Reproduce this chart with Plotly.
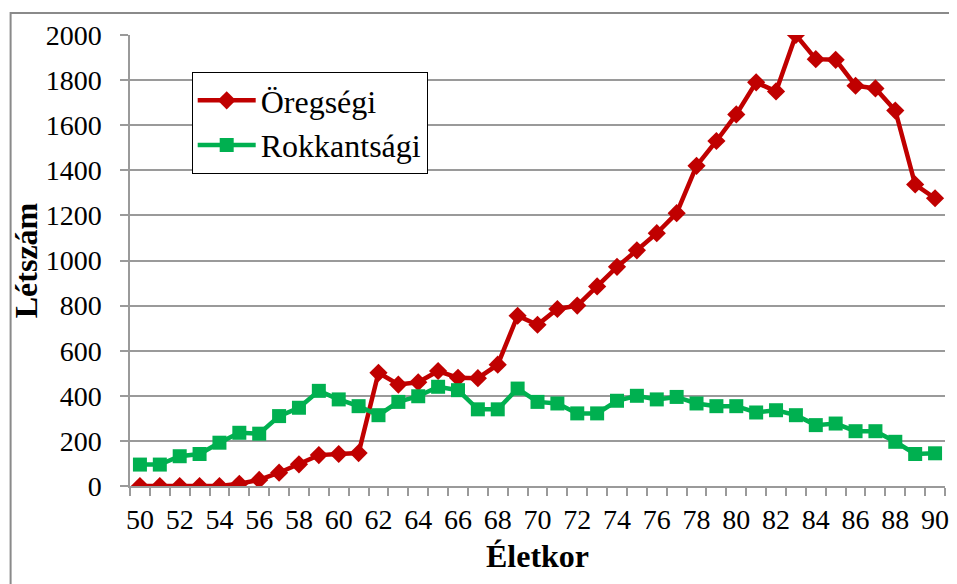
import plotly.graph_objects as go

eletkor = list(range(50, 91))

oregsegi = [0, 0, 0, 0, 0, 10, 27, 59, 96, 137,
            142, 146, 502, 450, 460, 510, 480, 478, 538, 755,
            715, 785, 800, 885, 972, 1045, 1121, 1210, 1420, 1530,
            1648, 1790, 1750, 2000, 1893, 1890, 1775, 1763, 1665, 1337,
            1276]

rokkantsagi = [95, 95, 132, 142, 192, 236, 232, 310, 347, 422,
               384, 354, 314, 373, 398, 440, 425, 340, 340, 432,
               373, 366, 322, 322, 378, 400, 384, 395, 366, 354,
               354, 326, 336, 314, 270, 277, 243, 243, 196, 142,
               145]

x_tickek = list(range(50, 91, 2))
y_tickek = list(range(0, 2001, 200))

betu = "Liberation Serif, Times New Roman, serif"
racs = "#9a9a9a"

fig = go.Figure()
fig.add_trace(go.Scatter(
    name="Öregségi",
    x=eletkor, y=oregsegi,
    mode="lines+markers",
    line=dict(color="#C00000", width=4.5),
    marker=dict(symbol="diamond", size=14, color="#C00000"),
))
fig.add_trace(go.Scatter(
    name="Rokkantsági",
    x=eletkor, y=rokkantsagi,
    mode="lines+markers",
    line=dict(color="#00B050", width=4.5),
    marker=dict(symbol="square", size=14, color="#00B050"),
))

# keret a kép bal és felső szélén
fig.add_shape(type="rect", xref="paper", yref="paper",
              x0=-0.1465, x1=1.3, y0=-0.5, y1=1.0488,
              line=dict(color="#8a8a8a", width=2), layer="below")

fig.update_layout(
    width=949, height=576,
    margin=dict(l=122, r=8, t=27, b=98),
    paper_bgcolor="white",
    plot_bgcolor="white",
    font=dict(family=betu, color="black"),
    showlegend=True,
    legend=dict(x=0.0757, y=0.918, xanchor="left", yanchor="top",
                bgcolor="white", bordercolor="black", borderwidth=1,
                font=dict(size=32, family=betu), itemwidth=58,
                tracegroupgap=0),
    xaxis=dict(range=[49.5, 90.5], tickvals=x_tickek, ticks="",
               showgrid=False, zeroline=False,
               showline=True, linecolor=racs, linewidth=1.5,
               tickfont=dict(size=28, family=betu), ticklabelstandoff=8,
               minor=dict(ticks="outside", tick0=49.5, dtick=1,
                          ticklen=8, tickcolor=racs, tickwidth=1.5,
                          showgrid=False),
               title=dict(text="<b>Életkor</b>", font=dict(size=32, family=betu),
                          standoff=10)),
    yaxis=dict(range=[0, 2000], tickvals=y_tickek, ticks="outside",
               ticklen=8, tickcolor=racs, tickwidth=1.5,
               showgrid=True, gridcolor=racs, gridwidth=1.5,
               zeroline=False, showline=True, linecolor=racs, linewidth=1.5,
               tickfont=dict(size=28, family=betu), ticklabelstandoff=13,
               title=dict(text="<b>Létszám</b>", font=dict(size=32, family=betu),
                          standoff=3)),
)

fig.write_html("out.html")
